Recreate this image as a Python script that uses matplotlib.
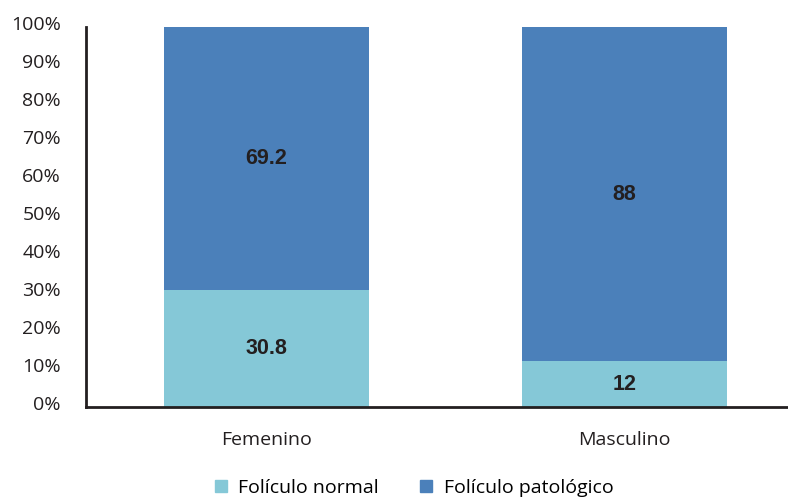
import matplotlib
matplotlib.use("Agg")
import matplotlib.pyplot as plt
import matplotlib.transforms as mtransforms
from matplotlib.patches import Patch

categories = ["Femenino", "Masculino"]
normal = [30.8, 12]
patologico = [69.2, 88]
series_names = ["Folículo normal", "Folículo patológico"]
yticks = [0, 10, 20, 30, 40, 50, 60, 70, 80, 90, 100]

c_normal = "#85C8D7"
c_pat = "#4B80BA"

plt.rcParams['font.family'] = ['Open Sans', 'DejaVu Sans']

fig = plt.figure(figsize=(7.88, 4.97), dpi=100)
ax = fig.add_axes([86/788, 1-407/497, (788-86)/788, (407-27)/497])

x = list(range(len(categories)))
w = 0.573
ax.bar(x, normal, width=w, color=c_normal, zorder=2)
ax.bar(x, patologico, width=w, bottom=normal, color=c_pat, zorder=2)

for i in x:
    ax.text(i, normal[i]/2, f"{normal[i]:g}", ha="center", va="center",
            fontsize=15.5, fontweight="bold", color="#231F20", family="Liberation Sans")
    ax.text(i, normal[i] + patologico[i]/2, f"{patologico[i]:g}", ha="center", va="center",
            fontsize=15.5, fontweight="bold", color="#231F20", family="Liberation Sans")

ax.set_xlim(-0.504, 1.457)
ax.set_ylim(0, 100)
ax.set_yticks(yticks)
ax.set_yticklabels([f"{t}%" for t in yticks])
ax.set_xticks(x)
ax.set_xticklabels(categories)
ax.tick_params(axis="both", length=0, labelsize=14, colors="#231F20")
ax.tick_params(axis="y", pad=18)
ax.tick_params(axis="x", pad=17)
off = mtransforms.ScaledTranslation(0, 4/100, fig.dpi_scale_trans)
for lab in ax.get_yticklabels():
    lab.set_horizontalalignment("right")
    lab.set_transform(lab.get_transform() + off)
for s in ["top", "right"]:
    ax.spines[s].set_visible(False)
ax.spines["left"].set_linewidth(2)
ax.spines["bottom"].set_linewidth(2)
ax.spines["left"].set_color("#231F20")
ax.spines["bottom"].set_color("#231F20")

handles = [Patch(color=c_normal), Patch(color=c_pat)]
fig.legend(handles, series_names, loc="lower center", bbox_to_anchor=(414/788, -0.035),
           ncol=2, frameon=False, fontsize=14, handlelength=0.62, handleheight=0.62,
           columnspacing=2.1, handletextpad=0.6)

fig.savefig("out.png", dpi=100)
